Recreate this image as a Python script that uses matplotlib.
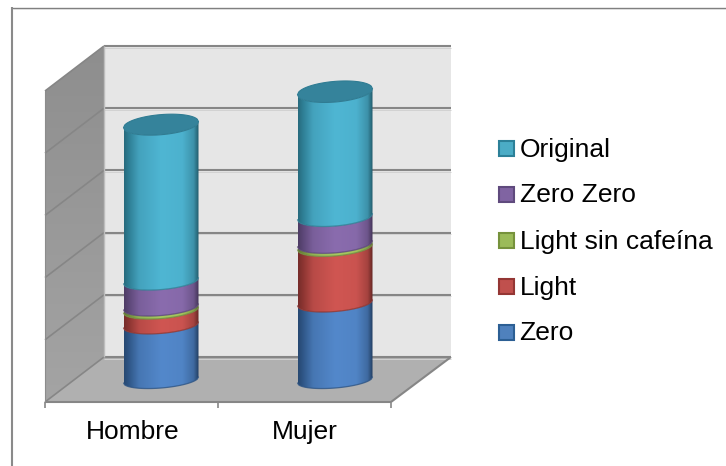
import numpy as np
import matplotlib
matplotlib.use("Agg")
import matplotlib.pyplot as plt
from matplotlib.colors import LinearSegmentedColormap, to_rgb
from matplotlib.patches import Polygon, Rectangle
from matplotlib.transforms import Affine2D, IdentityTransform

plt.rcParams["font.family"] = ["Liberation Sans", "DejaVu Sans"]

W, H = 726, 466

categories = ["Hombre", "Mujer"]
series_names = ["Zero", "Light", "Light sin cafeína", "Zero Zero", "Original"]
zero = [17.7, 24.8]
light = [4.8, 18.0]
light_sin_cafeina = [1.0, 1.0]
zero_zero = [8.4, 8.7]
original = [50.2, 40.2]
series_values = [zero, light, light_sin_cafeina, zero_zero, original]
series_colors = ["#4f81bd", "#c0504d", "#9bbb59", "#8064a2", "#4bacc6"]
center_colors = ["#5388cb", "#d05652", "#a5c860", "#8a6cae", "#4fb6d3"]
edge_colors = ["#2e5585", "#8a3431", "#6f8a3c", "#5b4676", "#2e7d93"]
legend_edges = ["#2c8098", "#5f4a7d", "#76923c", "#943634", "#2c5f94"]

PX_PER_VALUE = 3.11
BASE_Y = 380.0
X_FIRST = 161.0
X_STEP = 174.0
RADIUS_PX = 37.5
TILT = 0.08
MINOR_BASE_PX = 8.0
MINOR_GROWTH_PX = 0.025

fig = plt.figure(figsize=(W / 100, H / 100), dpi=100, facecolor="white")
ax = fig.add_axes([0, 0, 1, 1])
XLIM = (-X_FIRST / X_STEP, (W - X_FIRST) / X_STEP)
YLIM = ((BASE_Y - H) / PX_PER_VALUE, BASE_Y / PX_PER_VALUE)
ax.axis("off")

# Frame and walls are laid out in screen pixels, top-left origin.
px = Affine2D().scale(1, -1).translate(0, H)

def poly(points, **kw):
    ax.add_patch(Polygon(points, closed=True, transform=px, **kw))

def seg(xs, ys, **kw):
    ax.plot(xs, ys, transform=px, solid_capstyle="butt", **kw)

# Chart frame runs off the canvas at the right and bottom
seg([11, W], [7.6, 7.6], color="#808080", lw=1.0, zorder=0)
seg([13, W], [9, 9], color="#dcdcdc", lw=0.7, zorder=0)
seg([12, 12], [7, H], color="#8a8a8a", lw=1.5, zorder=0)

LEFT_F, LEFT_B, RIGHT_F, RIGHT_B = 45, 104, 391, 451
TOP_B, BOT_B, TOP_F, BOT_F = 46, 357, 91, 402

poly([(LEFT_B, TOP_B), (RIGHT_B, TOP_B), (RIGHT_B, BOT_B), (LEFT_B, BOT_B)], fc="#e6e6e6", ec="none", zorder=1)
poly([(LEFT_F, BOT_F), (LEFT_B, BOT_B), (RIGHT_B, BOT_B), (RIGHT_F, BOT_F)], fc="#b0b0b0", ec="none", zorder=1)

# Side wall with a soft vertical shade
shade = LinearSegmentedColormap.from_list("wall", ["#8e8e8e", "#a4a4a4"])
wall_img = ax.imshow(np.linspace(0, 1, 128)[:, None], cmap=shade, aspect="auto",
                     extent=(LEFT_F, LEFT_B, H - BOT_F, H - TOP_B), zorder=1, origin="upper")
wall_img.set_transform(IdentityTransform())
wall_img.set_clip_path(Polygon([(LEFT_F, TOP_F), (LEFT_B, TOP_B), (LEFT_B, BOT_B), (LEFT_F, BOT_F)],
                               transform=px))

for i in range(6):
    y_b = TOP_B + i * (BOT_B - TOP_B) / 5
    y_f = TOP_F + i * (BOT_F - TOP_F) / 5
    seg([LEFT_B, RIGHT_B], [y_b, y_b], color="#868686", lw=1.5, zorder=2)
    seg([LEFT_B, RIGHT_B], [y_b + 1.5, y_b + 1.5], color="#d2d2d2", lw=0.7, zorder=2)
    seg([LEFT_F, LEFT_B], [y_f, y_b], color="#868686", lw=1.2, zorder=2)

seg([LEFT_B, LEFT_B], [TOP_B, BOT_B], color="#bdbdbd", lw=1.0, zorder=2)
seg([RIGHT_B, RIGHT_F], [BOT_B, BOT_F], color="#868686", lw=1.5, zorder=2)
seg([LEFT_F, RIGHT_F], [BOT_F, BOT_F], color="#868686", lw=1.5, zorder=2)
seg([LEFT_F, LEFT_F], [TOP_F, BOT_F], color="#8c8c8c", lw=0.8, zorder=2)
for tx in (45, 218, 391):
    seg([tx, tx], [BOT_F, 408], color="#868686", lw=1.2, zorder=2)

x_r = RADIUS_PX / X_STEP
sh = TILT * RADIUS_PX / PX_PER_VALUE

def minor(v):
    # The ellipses open up slightly with height
    return (MINOR_BASE_PX + MINOR_GROWTH_PX * v) / PX_PER_VALUE

def front_arc(xc, v, n=60):
    t = np.linspace(-1, 1, n)
    return xc + t * x_r, v + t * sh - minor(v) * np.sqrt(1 - t ** 2)

def back_arc(xc, v, n=60):
    t = np.linspace(1, -1, n)
    return xc + t * x_r, v + t * sh + minor(v) * np.sqrt(1 - t ** 2)

def body_cmap(center, edge):
    c = np.array(to_rgb(center))
    e = np.array(to_rgb(edge))
    dark = e * 0.85
    mid = e * 0.35 + c * 0.65
    stops = [(0.0, dark), (0.06, e), (0.2, mid), (0.5, c), (0.78, c * 0.92 + e * 0.08),
             (0.93, mid * 0.9), (1.0, dark * 0.85)]
    return LinearSegmentedColormap.from_list("body", [(p, tuple(np.clip(col, 0, 1))) for p, col in stops])

grad = np.linspace(0, 1, 256)[None, :]

for i in range(len(categories)):
    bottom = 0.0
    for j, values in enumerate(series_values):
        top = bottom + values[i]
        xa, ya = front_arc(i, bottom)
        xb, yb = front_arc(i, top)
        verts = np.vstack([np.column_stack([xa, ya]), np.column_stack([xb[::-1], yb[::-1]])])
        clip = Polygon(verts, closed=True, transform=ax.transData)
        ymin, ymax = verts[:, 1].min(), verts[:, 1].max()
        im = ax.imshow(grad, cmap=body_cmap(center_colors[j], edge_colors[j]), aspect="auto",
                       extent=(i - x_r, i + x_r, ymin, ymax), zorder=3 + j * 0.01, interpolation="bilinear")
        im.set_clip_path(clip)
        ax.plot(xa, ya, color=edge_colors[j], lw=0.9, alpha=0.8, zorder=3.2 + j * 0.01, solid_capstyle="round")
        bottom = top
    # Cap of the stack
    xf, yf = front_arc(i, bottom)
    xk, yk = back_arc(i, bottom)
    ax.fill(np.r_[xf, xk], np.r_[yf, yk], fc="#35839b", ec="#2f7c93", lw=0.8, zorder=3.5)

ax.set_xlim(*XLIM)
ax.set_ylim(*YLIM)

for x_lab, name in zip((132.5, 305), categories):
    ax.text(x_lab, 432, name, transform=px, fontsize=19, ha="center", va="center", color="black")

# Legend lists the last series first
for k, j in enumerate(range(len(series_names) - 1, -1, -1)):
    cy = 148 + k * 46
    ax.add_patch(Rectangle((499, cy - 7.5), 15, 15, transform=px, fc=series_colors[j],
                           ec=legend_edges[k], lw=1.5, zorder=4))
    ax.text(519.5, cy - 1, series_names[j], transform=px, fontsize=19, ha="left", va="center_baseline", color="black")

fig.savefig("out.png", dpi=100)
